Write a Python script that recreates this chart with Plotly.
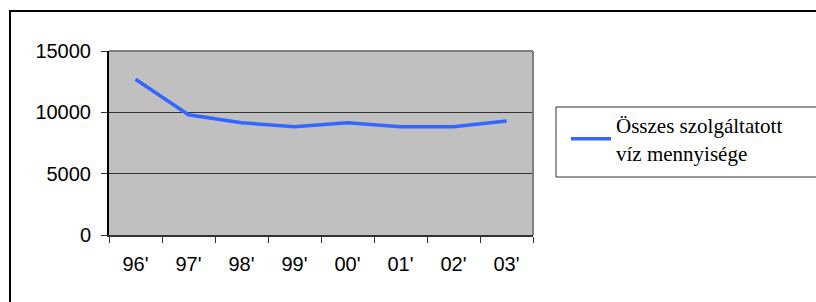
import plotly.graph_objects as go

years = ["96'", "97'", "98'", "99'", "00'", "01'", "02'", "03'"]
water_total = [12700, 9800, 9150, 8820, 9150, 8820, 8820, 9300]
series_name = "Összes szolgáltatott<br>víz mennyisége"
y_ticks = [0, 5000, 10000, 15000]
y_tick_labels = ["0", "5000", "10000", "15000"]

W, H = 816, 302
L, R, T, B = 109, 533, 51, 235

fig = go.Figure()
fig.add_trace(go.Scatter(
    x=years, y=water_total, mode="lines", name=series_name,
    line=dict(color="#3366FF", width=3.5),
))

def px_x(p):
    return (p - L) / (R - L)

def px_y(p):
    return (B - p) / (B - T)

fig.update_layout(
    width=W, height=H,
    margin=dict(l=L, r=W - R, t=T, b=H - B, pad=0, autoexpand=False),
    paper_bgcolor="white",
    plot_bgcolor="#C0C0C0",
    font=dict(family="Liberation Serif", size=20, color="black"),
    showlegend=True,
    legend=dict(
        x=px_x(566), y=px_y(105), xanchor="left", yanchor="top",
        bgcolor="rgba(0,0,0,0)", borderwidth=0,
        font=dict(family="Liberation Serif", size=21, color="black"),
        tracegroupgap=0, itemwidth=40,
    ),
    xaxis=dict(
        type="category", range=[-0.5, 7.5],
        showgrid=False, tickson="boundaries",
        ticks="outside", ticklen=6, tickcolor="#333333", tickwidth=1,
        showline=True, linecolor="#333333", linewidth=2,
        tickfont=dict(family="Liberation Sans", size=20, color="black"),
        ticklabelstandoff=10,
        mirror=False, zeroline=False,
    ),
    yaxis=dict(
        range=[0, 15000], tickvals=y_ticks, ticktext=y_tick_labels,
        showgrid=True, gridcolor="#333333", gridwidth=1,
        ticks="outside", ticklen=6, tickcolor="#333333",
        showline=True, linecolor="black", linewidth=2,
        tickfont=dict(family="Liberation Sans", size=20, color="black"),
        ticklabelstandoff=6,
        zeroline=False,
    ),
    shapes=[
        dict(type="line", xref="paper", yref="paper", x0=0, x1=1, y0=1, y1=1,
             line=dict(color="#808080", width=2)),
        dict(type="line", xref="paper", yref="paper", x0=1, x1=1, y0=0, y1=1,
             line=dict(color="#808080", width=2)),
        dict(type="rect", xref="paper", yref="paper",
             x0=px_x(10), x1=px_x(830), y0=px_y(11), y1=px_y(320),
             line=dict(color="black", width=2), fillcolor="rgba(0,0,0,0)",
             layer="below"),
        dict(type="rect", xref="paper", yref="paper",
             x0=px_x(556), x1=px_x(830), y0=px_y(107), y1=px_y(177),
             line=dict(color="#333333", width=1), fillcolor="white",
             layer="above"),
    ],
)

fig.write_html("out.html", config={"displayModeBar": False, "displaylogo": False},
               post_script="document.body.style.margin='0';")
